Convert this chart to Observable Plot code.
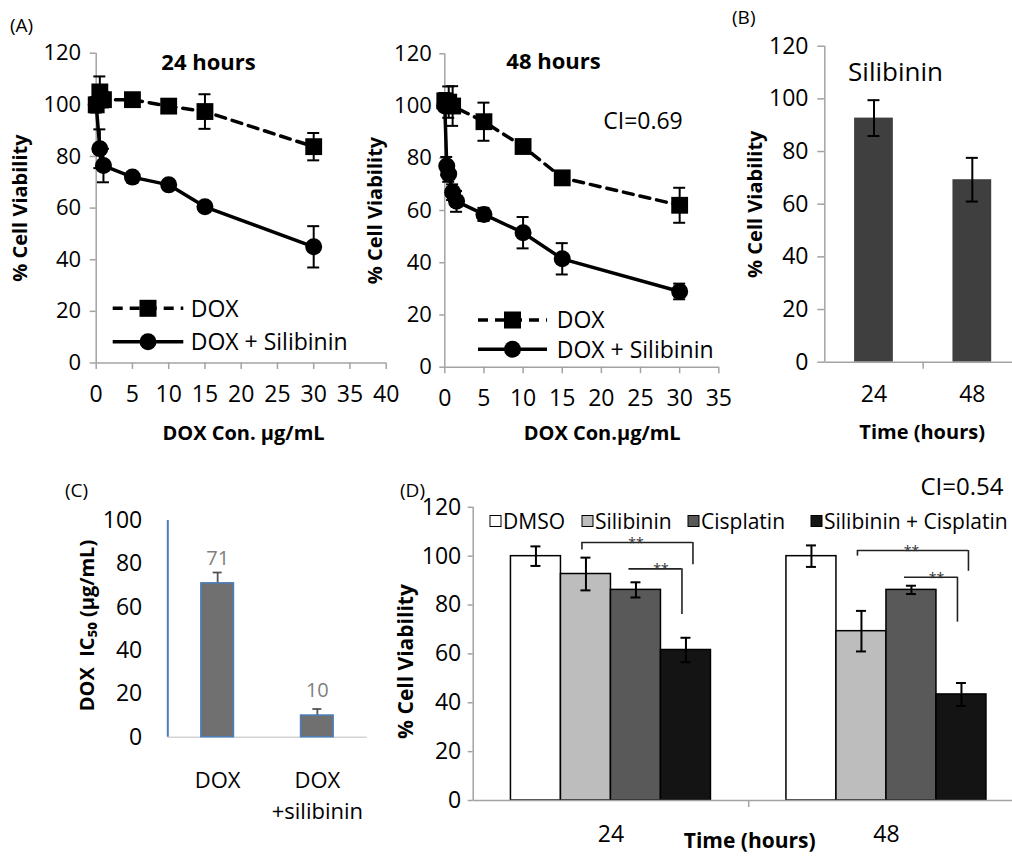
<!DOCTYPE html>
<html><head><meta charset="utf-8">
<script src="https://cdn.jsdelivr.net/npm/d3@7"></script>
<script src="https://cdn.jsdelivr.net/npm/@observablehq/plot@0.6"></script>
<style>
body{margin:0;background:#fff;}
#wrap{position:relative;width:1012px;height:856px;overflow:hidden;background:#fff;font-family:"Open Sans",sans-serif;color:#000;}
.panel{position:absolute;}
.panel svg{overflow:visible;}
#overlay{position:absolute;left:0;top:0;pointer-events:none;}
</style></head><body><div id="wrap"></div>
<script>
// ---------- DATA ----------
// Panel A, 24 h
const conc24Dox  = [0, 0.5, 1, 5, 10, 15, 30];
const via24Dox   = [100, 105, 102, 102, 99.5, 97.4, 83.8];
const err24Dox   = [3, 6, 3, 1.5, 2.5, 6.7, 5.3];
const conc24Comb = [0, 0.5, 1, 5, 10, 15, 30];
const via24Comb  = [100, 83, 76.5, 72, 69, 60.5, 45];
const err24Comb  = [0, 7.5, 6.5, 1, 1, 1.5, 8];
// Panel A, 48 h
const conc48Dox  = [0, 0.5, 1, 5, 10, 15, 30];
const via48Dox   = [102, 101.5, 100, 94, 84.5, 72.5, 62];
const err48Dox   = [3, 6, 7.6, 7.3, 1.5, 1, 6.7];
const conc48Comb = [0, 0.25, 0.5, 1, 1.5, 5, 10, 15, 30];
const via48Comb  = [100, 77, 74, 67, 63.5, 58.5, 51.5, 41.5, 29];
const err48Comb  = [0, 3.5, 3, 3, 4, 2.5, 6, 6, 3];
const seriesA = ["DOX", "DOX + Silibinin"];
const ticksA24 = [0, 5, 10, 15, 20, 25, 30, 35, 40];
const ticksA48 = [0, 5, 10, 15, 20, 25, 30, 35];
const ticksViab = [0, 20, 40, 60, 80, 100, 120];
// Panel B
const timesB = ["24", "48"];
const viaB = [92.7, 69.3];
const errB = [6.8, 8.3];
// Panel C
const groupsC = ["DOX", "DOX\n+silibinin"];
const ic50C = [71, 10];
const errC = [5, 3];
const ticksC = [0, 20, 40, 60, 80, 100];
// Panel D
const timesD = ["24", "48"];
const treatD = ["DMSO", "Silibinin", "Cisplatin", "Silibinin + Cisplatin"];
const colorsD = ["#ffffff", "#bdbdbd", "#595959", "#141414"];
const viaD24 = [100, 92.7, 86.2, 61.6];
const errD24 = [4, 6.7, 3.1, 5];
const viaD48 = [100, 69.3, 86.2, 43.4];
const errD48 = [4.4, 8.3, 1.7, 4.7];
// significance brackets in D
const sigTime  = ["24", "24", "48", "48"];
const sigFrom  = ["Silibinin", "Cisplatin", "Silibinin", "Cisplatin"];
const sigTo    = ["Silibinin + Cisplatin", "Silibinin + Cisplatin", "Silibinin + Cisplatin", "Silibinin + Cisplatin"];
const sigTop   = [105.6, 94.8, 102.3, 91.4];
const sigLeft  = [102.5, 94.8, 100, 91.4];
const sigRight = [96.5, 76.1, 93.8, 73];
const sigKind  = ["outer", "inner", "outer", "inner"];

// ---------- HELPERS ----------
const FONT = "Open Sans";
const GRAY = "#a3a3a3";
const wrap = document.getElementById("wrap");
const TXT = {textAnchor: "middle", lineAnchor: "middle"};
function place(plot, left, top, width) {
  const d = document.createElement("div");
  d.className = "panel";
  d.style.left = left + "px"; d.style.top = top + "px"; d.style.width = width + "px";
  d.appendChild(plot);
  wrap.appendChild(d);
}
function errBars(rows, x, {half = 6, stroke = "black", strokeWidth = 2, upOnly = false} = {}) {
  const r = rows.filter(d => d.e > 0);
  const m = [
    Plot.ruleX(r, {x, y1: d => upOnly ? d.v : d.v - d.e, y2: d => d.v + d.e, stroke, strokeWidth}),
    Plot.ruleY(r, {x1: x, x2: x, y: d => d.v + d.e, insetLeft: -half, insetRight: -half, stroke, strokeWidth})
  ];
  if (!upOnly) m.push(Plot.ruleY(r, {x1: x, x2: x, y: d => d.v - d.e, insetLeft: -half, insetRight: -half, stroke, strokeWidth}));
  return m;
}
const rowsOf = (xs, vs, es) => xs.map((x, i) => ({x, v: vs[i], e: es[i]}));

// ---------- PANEL A ----------
function panelA(o) {
  const dox = rowsOf(o.cDox, o.vDox, o.eDox);
  const comb = rowsOf(o.cComb, o.vComb, o.eComb);
  const marks = [
    Plot.ruleX([0], {stroke: GRAY, strokeWidth: 1.5}),
    Plot.ruleY([0], {stroke: GRAY, strokeWidth: 1.5}),
    Plot.axisY({ticks: ticksViab, tickSize: o.tsY, tickPadding: o.tpY, stroke: GRAY, strokeWidth: 1.5, fontSize: 22, label: null}),
    Plot.axisX({ticks: o.ticks, tickSize: 6.5, tickPadding: o.tpX, stroke: GRAY, strokeWidth: 1.5, fontSize: 23, label: null}),
    Plot.line(dox, {x: "x", y: "v", stroke: "black", strokeWidth: 3.5, strokeDasharray: "10,7"}),
    Plot.line(comb, {x: "x", y: "v", stroke: "black", strokeWidth: 3.5}),
    ...errBars(dox, "x"),
    ...errBars(comb, "x"),
    Plot.dot(dox, {x: "x", y: "v", symbol: "square", r: 9.5, fill: "black"}),
    Plot.dot(comb, {x: "x", y: "v", symbol: "circle", r: 8.5, fill: "black"}),
    Plot.text([o.title], {frameAnchor: "top", dx: o.titleDx, dy: o.titleDy, fontWeight: "bold", fontSize: 22, ...TXT}),
    Plot.text(["% Cell Viability"], {frameAnchor: "left", rotate: -90, dx: o.yLabDx, fontWeight: "bold", fontSize: 20, ...TXT}),
    Plot.text([o.xLabel], {frameAnchor: "bottom", dx: o.xLabDx, dy: o.xLabDy, fontWeight: "bold", fontSize: 20, ...TXT})
  ];
  if (o.ci) marks.push(Plot.text([o.ci], {frameAnchor: "top", dx: o.ciDx, dy: o.ciDy, fontSize: 23, ...TXT}));
  return Plot.plot({
    width: o.width, height: 440,
    marginLeft: o.mL, marginRight: o.mR, marginTop: o.mT, marginBottom: 440 - o.y0,
    x: {domain: [0, o.xMax]}, y: {domain: [0, 120]},
    style: {fontFamily: FONT, fontSize: "23px", background: "transparent", color: "black", overflow: "visible"},
    marks
  });
}
place(panelA({width: 400, mL: 95.7, mR: 14.3, mT: 52.7, y0: 362.5, xMax: 40, ticks: ticksA24,
  tsY: 6, tpY: 9, tpX: 16.5,
  cDox: conc24Dox, vDox: via24Dox, eDox: err24Dox, cComb: conc24Comb, vComb: via24Comb, eComb: err24Comb,
  title: "24 hours", titleDx: -32.7, titleDy: 9.3,
  xLabel: "DOX Con. µg/mL", xLabDx: 2.3, xLabDy: 70.5, yLabDx: -75.7}), 0, 0, 400);
place(panelA({width: 385, mL: 89.3, mR: 21.7, mT: 53.3, y0: 366.7, xMax: 35, ticks: ticksA48,
  tsY: 5, tpY: 8, tpX: 16.4,
  cDox: conc48Dox, vDox: via48Dox, eDox: err48Dox, cComb: conc48Comb, vComb: via48Comb, eComb: err48Comb,
  title: "48 hours", titleDx: -28.3, titleDy: 8.4, ci: "CI=0.69", ciDx: 61.2, ciDy: 67.4,
  xLabel: "DOX Con.µg/mL", xLabDx: 20.4, xLabDy: 66.3, yLabDx: -69.3}), 355, 0, 385);

// ---------- PANEL B ----------
{
  const rows = timesB.map((t, i) => ({i, t, v: viaB[i], e: errB[i]}));
  const cx = d => d.i + 0.5;
  const hw = 0.197;
  place(Plot.plot({
    width: 291, height: 440, marginLeft: 94.3, marginRight: 0, marginTop: 45.7, marginBottom: 78.3,
    x: {domain: [0, 2]}, y: {domain: [0, 120]},
    style: {fontFamily: FONT, fontSize: "23px", background: "transparent", color: "black", overflow: "visible"},
    marks: [
      Plot.rectY(rows, {x1: d => cx(d) - hw, x2: d => cx(d) + hw, y: "v", fill: "#3f3f3f"}),
      ...errBars(rows, cx, {half: 6, strokeWidth: 2}),
      Plot.ruleX([0], {stroke: GRAY, strokeWidth: 1.5}),
      Plot.ruleY([0], {stroke: GRAY, strokeWidth: 1.5}),
      Plot.axisY({ticks: ticksViab, tickSize: 7, tickPadding: 9.3, stroke: GRAY, strokeWidth: 1.5, fontSize: 23, label: null}),
      Plot.axisX({ticks: [1, 2], tickSize: 7, tickFormat: () => "", stroke: GRAY, strokeWidth: 1.5, label: null}),
      Plot.axisX({ticks: [0.5, 1.5], tickSize: 0, tickPadding: 23.1, tickFormat: d => timesB[Math.floor(d)], fontSize: 23, label: null}),
      Plot.text(["Silibinin"], {frameAnchor: "top", dx: -27.6, dy: 26, fontSize: 26, ...TXT}),
      Plot.text(["% Cell Viability"], {frameAnchor: "left", rotate: -90, dx: -69.3, fontWeight: "bold", fontSize: 20, ...TXT}),
      Plot.text(["Time (hours)"], {frameAnchor: "bottom", dx: -1, dy: 70.3, fontWeight: "bold", fontSize: 20, ...TXT})
    ]
  }), 730, 0, 291);
}

// ---------- PANEL C ----------
{
  const rows = groupsC.map((g, i) => ({i, g, v: ic50C[i], e: errC[i]}));
  const cx = d => d.i + 0.5;
  const hw = 0.1635;
  place(Plot.plot({
    width: 390, height: 416, marginLeft: 167.3, marginRight: 23.3, marginTop: 80, marginBottom: 119.3,
    x: {domain: [0, 2]}, y: {domain: [0, 100]},
    style: {fontFamily: FONT, fontSize: "23px", background: "transparent", color: "black", overflow: "visible"},
    marks: [
      Plot.ruleY([0], {stroke: "#d4d4d4", strokeWidth: 1.5}),
      ...errBars(rows, cx, {half: 4.5, stroke: "#555", strokeWidth: 1.8, upOnly: true}),
      Plot.rectY(rows, {x1: d => cx(d) - hw, x2: d => cx(d) + hw, y: "v", fill: "#707070", stroke: "#4a7ebb", strokeWidth: 1.5}),
      Plot.ruleX([0], {stroke: "#4a7ebb", strokeWidth: 2}),
      Plot.axisY({ticks: ticksC, tickSize: 0, tickPadding: 25.6, fontSize: 23, label: null}),
      Plot.axisX({ticks: [0.5, 1.5], tickSize: 0, tickPadding: 28.7, tickFormat: d => groupsC[Math.floor(d)], fontSize: 22, lineHeight: 1.4, label: null}),
      Plot.text(rows, {x: cx, y: "v", text: d => String(d.v), dy: -25, fill: "#7f7f7f", fontSize: 20, ...TXT}),
      Plot.text(["DOX  IC\u2085\u2080 (µg/mL)"], {frameAnchor: "left", rotate: -90, dx: -80, dy: -3.3, fontWeight: "bold", fontSize: 20, ...TXT})
    ]
  }), 0, 440, 390);
}

// ---------- PANEL D ----------
{
  const bw = 0.1815, start = 0.137;
  const rows = [];
  timesD.forEach((t, g) => {
    const vs = g === 0 ? viaD24 : viaD48, es = g === 0 ? errD24 : errD48;
    treatD.forEach((s, k) => rows.push({g, k, t, s, v: vs[k], e: es[k]}));
  });
  const center = (t, s) => timesD.indexOf(t) + start + (treatD.indexOf(s) + 0.5) * bw;
  const cx = d => center(d.t, d.s);
  const sig = sigTime.map((t, i) => ({t, from: sigFrom[i], to: sigTo[i], top: sigTop[i], l: sigLeft[i], r: sigRight[i], kind: sigKind[i]}));
  const outer = sig.filter(d => d.kind === "outer"), inner = sig.filter(d => d.kind === "inner");
  const xf = d => center(d.t, d.from), xt = d => center(d.t, d.to);
  const bs = {stroke: "#222", strokeWidth: 1.6};
  place(Plot.plot({
    width: 650, height: 416, marginLeft: 82.7, marginRight: 16.3, marginTop: 66.8, marginBottom: 56,
    x: {domain: [0, 2]}, y: {domain: [0, 120]},
    style: {fontFamily: FONT, fontSize: "23px", background: "transparent", color: "black", overflow: "visible"},
    marks: [
      Plot.rectY(rows, {x1: d => cx(d) - bw / 2, x2: d => cx(d) + bw / 2, y: "v", fill: d => colorsD[d.k], stroke: "black", strokeWidth: 1.5}),
      ...errBars(rows, cx, {half: 5, strokeWidth: 2}),
      Plot.ruleX([0], {stroke: GRAY, strokeWidth: 1.5}),
      Plot.ruleY([0], {stroke: GRAY, strokeWidth: 1.5}),
      Plot.axisY({ticks: ticksViab, tickSize: 5, tickPadding: 7, stroke: GRAY, strokeWidth: 1.5, fontSize: 23, label: null}),
      Plot.axisX({ticks: [1, 2], tickSize: 7, tickFormat: () => "", stroke: GRAY, strokeWidth: 1.5, label: null}),
      Plot.axisX({ticks: [0.5, 1.5], tickSize: 0, tickPadding: 24.8, tickFormat: d => timesD[Math.floor(d)], fontSize: 23, label: null}),
      // brackets
      Plot.ruleY(outer, {x1: xf, x2: xt, y: "top", insetLeft: -4, insetRight: -7, ...bs}),
      Plot.ruleX(outer, {x: xf, y1: "l", y2: "top", dx: -4, ...bs}),
      Plot.ruleX(outer, {x: xt, y1: "r", y2: "top", dx: 7, ...bs}),
      Plot.ruleY(inner, {x1: xf, x2: xt, y: "top", insetLeft: -7, insetRight: 4, ...bs}),
      Plot.ruleX(inner, {x: xt, y1: "r", y2: "top", dx: -4, ...bs}),
      Plot.text(sig, {x: d => (xf(d) + xt(d)) / 2, y: "top", text: () => "**", dy: 1, fontSize: 14, fill: "#333", ...TXT}),
      Plot.text(["CI=0.54"], {frameAnchor: "top", dx: 213.3, dy: -20.1, fontSize: 24, ...TXT}),
      Plot.text(["% Cell Viability"], {frameAnchor: "left", rotate: -90, dx: -66.7, dy: 7.6, fontWeight: "bold", fontSize: 21, ...TXT}),
      Plot.text(["Time (hours)"], {frameAnchor: "bottom", dx: 1, dy: 41, fontWeight: "bold", fontSize: 21, ...TXT})
    ]
  }), 390, 440, 650);
}

// ---------- OVERLAY: panel letters and legends ----------
{
  const svg = d3.select(wrap).append("svg").attr("id", "overlay")
    .attr("width", 1012).attr("height", 856)
    .style("font-family", FONT);
  const letters = [["(A)", 10, 25], ["(B)", 732, 17], ["(C)", 65, 490], ["(D)", 400, 490]];
  letters.forEach(([t, x, y]) => svg.append("text").attr("x", x).attr("y", y).attr("dy", "0.35em")
    .attr("font-size", 19).text(t));
  // legends for A
  function legA(x0, x1, xm, xt, ys) {
    seriesA.forEach((s, i) => {
      const y = ys[i];
      svg.append("line").attr("x1", x0).attr("x2", x1).attr("y1", y).attr("y2", y)
        .attr("stroke", "black").attr("stroke-width", 3.5)
        .attr("stroke-dasharray", i === 0 ? "10,7" : null);
      if (i === 0) svg.append("rect").attr("x", xm - 8.5).attr("y", y - 8.5).attr("width", 17).attr("height", 17);
      else svg.append("circle").attr("cx", xm).attr("cy", y).attr("r", 8.5);
      svg.append("text").attr("x", xt).attr("y", y).attr("dy", "0.36em").attr("font-size", 23).text(s);
    });
  }
  legA(112.7, 183.3, 148, 190.7, [308.3, 341.7]);
  legA(478, 547, 512.5, 556.7, [320, 349.3]);
  // legend for D
  const lx = [490, 582, 688, 811];
  treatD.forEach((s, i) => {
    svg.append("rect").attr("x", lx[i]).attr("y", 521 - 5.5).attr("width", 11).attr("height", 11)
      .attr("fill", colorsD[i]).attr("stroke", "black").attr("stroke-width", 1);
    svg.append("text").attr("x", lx[i] + 13).attr("y", 521).attr("dy", "0.36em").attr("font-size", 21).text(s);
  });
}
</script></body></html>
